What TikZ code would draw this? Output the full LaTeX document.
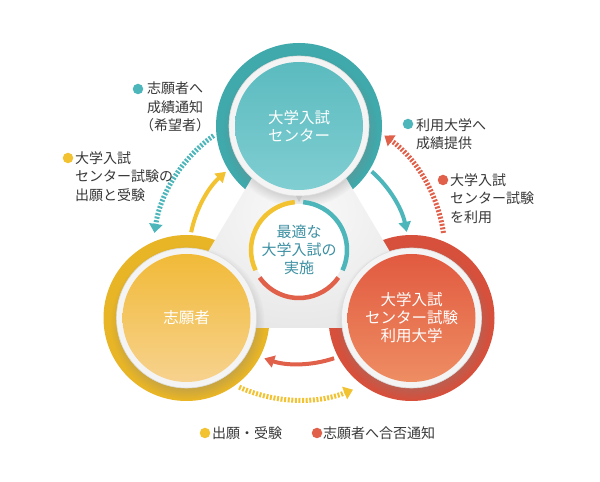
\documentclass[tikz,border=0pt]{standalone}
\usepackage{fontspec}
\setmainfont{Noto Sans CJK JP}
\usetikzlibrary{arrows.meta,shadows}
\definecolor{tealO}{HTML}{3FA9AB}
\definecolor{tealA}{HTML}{5BBBBF}
\definecolor{tealB}{HTML}{80CED2}
\definecolor{yelO}{HTML}{E8B526}
\definecolor{yelA}{HTML}{F1BA38}
\definecolor{yelB}{HTML}{F7D28E}
\definecolor{redO}{HTML}{D6503C}
\definecolor{redA}{HTML}{E15A40}
\definecolor{redB}{HTML}{EE8D63}
\definecolor{tri}{HTML}{E8E8E8}
\definecolor{rim}{HTML}{F4F4F4}
\definecolor{rimline}{HTML}{DDDDDD}
\definecolor{ctext}{HTML}{3C90A3}
\definecolor{ltext}{HTML}{383838}
\definecolor{tealL}{HTML}{4DB6BA}
\definecolor{yelL}{HTML}{F2C230}
\definecolor{redL}{HTML}{E0604A}
\tikzset{
 rimc/.style={circle, minimum size=140pt, inner sep=0pt, fill=rim, draw=rimline, line width=0.6pt,
   circular drop shadow={shadow xshift=1pt, shadow yshift=-4pt, opacity=0.3}},
 core/.style={circle, minimum size=128pt, inner sep=0pt, align=center, text=white,
   font=\fontsize{15.5}{18}\selectfont, shading angle=45},
 flow/.style={line width=4pt, -{Triangle[length=10pt,width=12pt]}},
 dotflow/.style={line width=5pt, dash pattern=on 2pt off 1.6pt, -{Triangle[length=9pt,width=13pt]}},
 bullet/.style={circle, inner sep=0pt, minimum size=10.5pt, fill=#1},
 lbl/.style={inner sep=0pt, text=ltext, font=\fontsize{14}{18.5}\selectfont},
 seg/.style={line width=4.5pt},
}
\begin{document}
\begin{tikzpicture}[x=1pt,y=1pt]
\useasboundingbox (0,0) rectangle (600,482);
\fill[white] (0,0) rectangle (600,482);
\coordinate (T) at (299,356);
\coordinate (L) at (186.5,164);
\coordinate (R) at (411.5,164);
\coordinate (C) at (299,228);
\coordinate (M) at (299,232);
% outer coloured disks
\fill[tealO] (T) circle (83pt);
\fill[yelO] (L) circle (83pt);
\fill[redO] (R) circle (83pt);
% central grey triangle
\path[inner color=white!96!gray, outer color=tri] (299,383) -- (162.7,154) -- (435.3,154) -- cycle;
% rims and cores
\node[rimc] (Trim) at (T) {};
\node[rimc] (Lrim) at (L) {};
\node[rimc] (Rrim) at (R) {};
\node[core, top color=tealA, bottom color=tealB] (Tc) at (T) {大学入試\\センター};
\node[core, top color=yelA, bottom color=yelB] (Lc) at (L) {志願者};
\node[core, top color=redA, bottom color=redB] (Rc) at (R) {大学入試\\センター試験\\利用大学};
% centre
\node[circle, minimum size=92pt, inner sep=0pt, fill=white, align=center, text=ctext,
  font=\fontsize{15}{18}\selectfont] (Mc) at (M) {最適な\\大学入試の\\実施};
\draw[seg, yelL] ([shift={(95:48pt)}]M) arc[start angle=95, end angle=205, radius=48pt];
\draw[seg, redL] ([shift={(215:48pt)}]M) arc[start angle=215, end angle=325, radius=48pt];
\draw[seg, tealL] ([shift={(335:48pt)}]M) arc[start angle=335, end angle=445, radius=48pt];
\fill[gray!45] (296,286) -- (302,286) -- (299,280) -- cycle;
% solid arrows
\draw[flow, yelL] ([shift={(168.6:110pt)}]C) arc[start angle=168.6, end angle=131.6, radius=110pt];
\draw[flow, tealL] ([shift={(48.6:110pt)}]C) arc[start angle=48.6, end angle=11.6, radius=110pt];
\draw[flow, redL] ([shift={(288.6:110pt)}]C) arc[start angle=288.6, end angle=251.6, radius=110pt];
% dotted arrows
\draw[dotflow, tealL] ([shift={(125.8:146pt)}]C) arc[start angle=125.8, end angle=171.7, radius=146pt];
\draw[dotflow, redL] ([shift={(8.3:146pt)}]C) arc[start angle=8.3, end angle=54.2, radius=146pt];
\draw[dotflow, yelL] ([shift={(245.8:146pt)}]C) arc[start angle=245.8, end angle=291.7, radius=146pt];
% labels
\node[bullet=tealL] (b1) at (138,393) {};
\node[lbl, anchor=north, align=center] (l1) at (175,400) {志願者へ\\成績通知\\（希望者）};
\node[bullet=yelL] (b2) at (68,324) {};
\node[lbl, anchor=north west, align=left] (l2) at (75,331) {大学入試\\センター試験の\\出願と受験};
\node[bullet=tealL] (b3) at (408,358) {};
\node[lbl, anchor=north west, align=left] (l3) at (416,364) {利用大学へ\\成績提供};
\node[bullet=redL] (b4) at (443,302) {};
\node[lbl, anchor=north west, align=left] (l4) at (450,309) {大学入試\\センター試験\\を利用};
\node[bullet=yelL] (b5) at (205,49) {};
\node[lbl, anchor=west] (l5) at (212,49) {出願・受験};
\node[bullet=redL] (b6) at (317,49) {};
\node[lbl, anchor=west] (l6) at (323,49) {志願者へ合否通知};
\end{tikzpicture}
\end{document}
